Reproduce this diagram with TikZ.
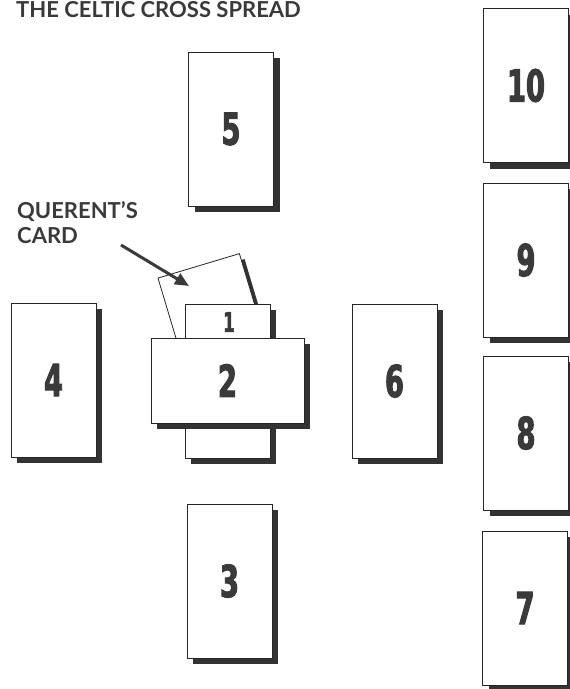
\documentclass[tikz,border=0pt]{standalone}
\usepackage{fontspec}
\setmainfont{Lato}
\newfontfamily\numfont[FakeStretch=0.62,FakeBold=2.2]{DejaVu Sans}
\usetikzlibrary{arrows.meta}
\definecolor{ink}{HTML}{3A3A3A}
\definecolor{shadowgray}{HTML}{333333}
\begin{document}
\begin{tikzpicture}[x=1pt,y=-1pt,
  cardbox/.style={draw=black!85, line width=0.8pt, fill=white, inner sep=0pt,
    minimum width=85pt, minimum height=154pt,
    font=\numfont\bfseries\fontsize{44pt}{44pt}\selectfont, text=ink},
  widecard/.style={minimum width=153pt, minimum height=85pt},
  shade/.style={fill=shadowgray, draw=none, inner sep=0pt,
    minimum width=85pt, minimum height=154pt},
  captext/.style={anchor=base west, inner sep=0pt, text=ink,
    font=\bfseries\fontsize{22pt}{22pt}\selectfont},
  smallnum/.style={inner sep=0pt, text=ink,
    font=\numfont\bfseries\fontsize{27pt}{27pt}\selectfont},
  pointer/.style={draw=ink, line width=3pt, -{Triangle[length=14pt,width=12pt]}}
]
\useasboundingbox (0,0) rectangle (570,689);

% title
\node[captext] (title) at (16,17.5) {THE CELTIC CROSS SPREAD};

% card 5
\node[shade] (s5) at (237,135) {};
\node[cardbox] (c5) at (231,129) {5};
% card 4
\node[shade] (s4) at (59.5,386) {};
\node[cardbox] (c4) at (53.5,380) {4};
% card 6
\node[shade] (s6) at (400.5,387) {};
\node[cardbox] (c6) at (394.5,381) {6};
% card 3
\node[shade] (s3) at (235.5,587) {};
\node[cardbox] (c3) at (229.5,581) {3};

% right column
\node[shade] (s10) at (532,91.5) {};
\node[cardbox] (c10) at (526,85.5) {10};
\node[shade] (s9) at (532,266) {};
\node[cardbox] (c9) at (526,260) {9};
\node[shade] (s8) at (532,439) {};
\node[cardbox] (c8) at (526,433) {8};
\node[shade] (s7) at (531,614) {};
\node[cardbox] (c7) at (525,608) {7};

% querent's card (tilted)
\node[shade, rotate=16.7] (sq) at (226,345) {};
\node[cardbox, rotate=16.7] (cq) at (220.8,339.6) {};

% card 1
\node[shade] (s1) at (233.5,387) {};
\node[cardbox] (c1) at (227.5,381) {};
\node[smallnum] (n1) at (229,322) {1};

% card 2 (crossing)
\node[shade, widecard] (s2) at (233.5,386.5) {};
\node[cardbox, widecard] (c2) at (227.5,380.5) {2};

% querent label and arrow
\node[captext] (q1) at (17,218) {QUERENT'S};
\node[captext] (q2) at (17,243) {CARD};
\coordinate (ast) at (121,245);
\coordinate (aen) at (189,286);
\draw[pointer] (ast) -- (aen);
\end{tikzpicture}
\end{document}
